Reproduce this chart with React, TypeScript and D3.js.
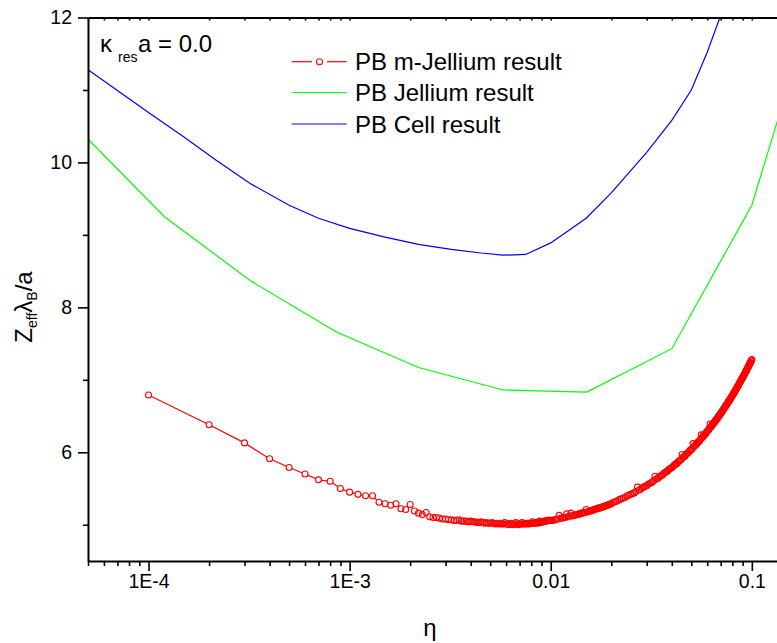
import { useEffect, useRef } from "react";
import * as d3 from "d3";

// PB m-Jellium result (red, circles)
const redEta = [
  0.0001, 0.0002, 0.0003, 0.0004, 0.0005, 0.0006, 0.0007, 0.0008, 0.0009,
  0.0010, 0.0011, 0.0012, 0.0013, 0.0014, 0.0015, 0.0016, 0.0017, 0.0018, 0.0019,
  0.0020, 0.0021, 0.0022, 0.0023, 0.0024, 0.0025, 0.0026, 0.0027, 0.0028,
  0.0029, 0.0030, 0.0031, 0.0032, 0.0033, 0.0034, 0.0035, 0.0036, 0.0037, 0.0038,
  0.0039, 0.0040, 0.0041, 0.0042, 0.0043, 0.0044, 0.0045, 0.0046, 0.0047, 0.0048,
  0.0049, 0.0050, 0.0051, 0.0052, 0.0053, 0.0054, 0.0055, 0.0056, 0.0057, 0.0058,
  0.0059, 0.0060, 0.0061, 0.0062, 0.0063, 0.0064, 0.0065, 0.0066, 0.0067, 0.0068,
  0.0069, 0.0070, 0.0071, 0.0072, 0.0073, 0.0074, 0.0075, 0.0076, 0.0077, 0.0078,
  0.0079, 0.0080, 0.0081, 0.0082, 0.0083, 0.0084, 0.0085, 0.0086, 0.0087, 0.0088,
  0.0089, 0.0090, 0.0091, 0.0092, 0.0093, 0.0094, 0.0095, 0.0096, 0.0097, 0.0098,
  0.0099, 0.0100,
  0.0102, 0.0104, 0.0106, 0.0108, 0.0110, 0.0112, 0.0114, 0.0116, 0.0118, 0.0120,
  0.0122, 0.0124, 0.0126, 0.0128, 0.0130, 0.0132, 0.0134, 0.0136, 0.0138, 0.0140,
  0.0142, 0.0144, 0.0146, 0.0148, 0.0150, 0.0152, 0.0154, 0.0156, 0.0158, 0.0160,
  0.0162, 0.0164, 0.0166, 0.0168, 0.0170, 0.0172, 0.0174, 0.0176, 0.0178, 0.0180,
  0.0182, 0.0184, 0.0186, 0.0188, 0.0190, 0.0192, 0.0194, 0.0196, 0.0198, 0.0200,
  0.0205, 0.0210, 0.0215, 0.0220, 0.0225, 0.0230, 0.0235, 0.0240, 0.0245, 0.0250,
  0.0255, 0.0260, 0.0265, 0.0270, 0.0275, 0.0280, 0.0285, 0.0290, 0.0295, 0.0300,
  0.0305, 0.0310, 0.0315, 0.0320, 0.0325, 0.0330, 0.0335, 0.0340, 0.0345, 0.0350,
  0.0355, 0.0360, 0.0365, 0.0370, 0.0375, 0.0380, 0.0385, 0.0390, 0.0395, 0.0400,
  0.0405, 0.0410, 0.0415, 0.0420, 0.0425, 0.0430, 0.0435, 0.0440, 0.0445, 0.0450,
  0.0455, 0.0460, 0.0465, 0.0470, 0.0475, 0.0480, 0.0485, 0.0490, 0.0495, 0.0500,
  0.0505, 0.0510, 0.0515, 0.0520, 0.0525, 0.0530, 0.0535, 0.0540, 0.0545, 0.0550,
  0.0555, 0.0560, 0.0565, 0.0570, 0.0575, 0.0580, 0.0585, 0.0590, 0.0595, 0.0600,
  0.0605, 0.0610, 0.0615, 0.0620, 0.0625, 0.0630, 0.0635, 0.0640, 0.0645, 0.0650,
  0.0655, 0.0660, 0.0665, 0.0670, 0.0675, 0.0680, 0.0685, 0.0690, 0.0695, 0.0700,
  0.0705, 0.0710, 0.0715, 0.0720, 0.0725, 0.0730, 0.0735, 0.0740, 0.0745, 0.0750,
  0.0755, 0.0760, 0.0765, 0.0770, 0.0775, 0.0780, 0.0785, 0.0790, 0.0795, 0.0800,
  0.0805, 0.0810, 0.0815, 0.0820, 0.0825, 0.0830, 0.0835, 0.0840, 0.0845, 0.0850,
  0.0855, 0.0860, 0.0865, 0.0870, 0.0875, 0.0880, 0.0885, 0.0890, 0.0895, 0.0900,
  0.0905, 0.0910, 0.0915, 0.0920, 0.0925, 0.0930, 0.0935, 0.0940, 0.0945, 0.0950,
  0.0955, 0.0960, 0.0965, 0.0970, 0.0975, 0.0980, 0.0985, 0.0990, 0.0995, 0.1000,
];
const redZ = [
  6.79, 6.38, 6.13, 5.91, 5.79, 5.70, 5.62, 5.60, 5.50,
  5.45, 5.42, 5.40, 5.40, 5.31, 5.29, 5.27, 5.29, 5.22, 5.21,
  5.28, 5.19, 5.16, 5.14, 5.17, 5.11, 5.10, 5.10, 5.09,
  5.08, 5.08, 5.07, 5.07, 5.06, 5.06, 5.07, 5.05, 5.05, 5.05,
  5.04, 5.05, 5.04, 5.04, 5.03, 5.03, 5.04, 5.03, 5.02, 5.03,
  5.02, 5.02, 5.03, 5.02, 5.01, 5.02, 5.01, 5.02, 5.01, 5.01,
  5.03, 5.01, 5.01, 5.00, 5.02, 5.01, 5.00, 5.01, 5.03, 5.01,
  5.00, 5.01, 5.01, 5.03, 5.01, 5.01, 5.02, 5.01, 5.02, 5.01,
  5.02, 5.02, 5.04, 5.02, 5.02, 5.03, 5.03, 5.02, 5.03, 5.05,
  5.03, 5.04, 5.04, 5.04, 5.05, 5.05, 5.05, 5.06, 5.06, 5.06,
  5.06, 5.06,
  5.06, 5.07, 5.07, 5.08, 5.13, 5.09, 5.09, 5.10, 5.10, 5.15,
  5.11, 5.12, 5.16, 5.12, 5.13, 5.13, 5.14, 5.14, 5.15, 5.15,
  5.16, 5.16, 5.17, 5.17, 5.21, 5.18, 5.18, 5.19, 5.19, 5.20,
  5.20, 5.21, 5.21, 5.22, 5.22, 5.23, 5.23, 5.23, 5.24, 5.24,
  5.25, 5.25, 5.26, 5.26, 5.27, 5.27, 5.28, 5.28, 5.29, 5.29,
  5.31, 5.32, 5.33, 5.35, 5.36, 5.37, 5.38, 5.40, 5.41, 5.42,
  5.43, 5.44, 5.46, 5.52, 5.48, 5.49, 5.51, 5.52, 5.53, 5.54,
  5.56, 5.57, 5.58, 5.59, 5.61, 5.67, 5.63, 5.64, 5.66, 5.67,
  5.68, 5.69, 5.71, 5.72, 5.73, 5.74, 5.76, 5.77, 5.78, 5.79,
  5.80, 5.82, 5.83, 5.84, 5.85, 5.87, 5.88, 5.89, 5.90, 5.97,
  5.93, 5.94, 5.95, 5.97, 5.98, 5.99, 6.00, 6.02, 6.03, 6.04,
  6.05, 6.12, 6.08, 6.09, 6.10, 6.11, 6.13, 6.14, 6.15, 6.16,
  6.18, 6.24, 6.20, 6.21, 6.23, 6.24, 6.25, 6.26, 6.28, 6.29,
  6.30, 6.31, 6.33, 6.39, 6.35, 6.36, 6.38, 6.39, 6.40, 6.41,
  6.42, 6.44, 6.45, 6.46, 6.47, 6.49, 6.50, 6.51, 6.52, 6.54,
  6.55, 6.56, 6.57, 6.59, 6.60, 6.61, 6.62, 6.64, 6.65, 6.66,
  6.67, 6.69, 6.70, 6.71, 6.72, 6.73, 6.75, 6.76, 6.77, 6.78,
  6.80, 6.81, 6.82, 6.83, 6.85, 6.86, 6.87, 6.88, 6.90, 6.91,
  6.92, 6.93, 6.95, 6.96, 6.97, 6.98, 7.00, 7.01, 7.02, 7.03,
  7.04, 7.06, 7.07, 7.08, 7.09, 7.11, 7.12, 7.13, 7.14, 7.16,
  7.17, 7.18, 7.19, 7.21, 7.22, 7.23, 7.24, 7.26, 7.27, 7.28,
];

// PB Jellium result (green)
const jelliumEta = [4.5e-5, 1.2e-4, 3.2e-4, 8.6e-4, 2.2e-3, 5.8e-3, 0.0151, 0.04, 0.1, 0.26];
const jelliumZ = [10.45, 9.25, 8.37, 7.66, 7.17, 6.86, 6.83, 7.43, 9.41, 13.2];

// PB Cell result (blue)
const cellEta = [
  4.5e-5, 1e-4, 1.5e-4, 2.17e-4, 3.2e-4, 5e-4, 7e-4, 1e-3, 1.5e-3, 2.2e-3, 3.2e-3,
  4.5e-3, 5.8e-3, 7.5e-3, 0.01, 0.015, 0.02, 0.03, 0.04, 0.05, 0.06, 0.07, 0.08,
];
const cellZ = [
  11.37, 10.69, 10.35, 10.03, 9.71, 9.41, 9.23, 9.09, 8.97, 8.87, 8.80,
  8.75, 8.72, 8.73, 8.89, 9.23, 9.58, 10.14, 10.58, 11.0, 11.52, 12.03, 12.6,
];

const xMajor = [1e-4, 1e-3, 1e-2, 1e-1];
const xLabels = ["1E-4", "1E-3", "0.01", "0.1"];
const xMinor = [
  5e-5, 6e-5, 7e-5, 8e-5, 9e-5,
  2e-4, 3e-4, 4e-4, 5e-4, 6e-4, 7e-4, 8e-4, 9e-4,
  2e-3, 3e-3, 4e-3, 5e-3, 6e-3, 7e-3, 8e-3, 9e-3,
  0.02, 0.03, 0.04, 0.05, 0.06, 0.07, 0.08, 0.09, 0.2,
];
const yMajor = [6, 8, 10, 12];
const yMinor = [5, 7, 9, 11];

const legendNames = ["PB m-Jellium result", "PB Jellium result", "PB Cell result"];
const legendColors = ["#ff0000", "#00ff00", "#0000ff"];

const FONT = "'Liberation Sans', Arial, Helvetica, sans-serif";

export default function App() {
  const svgRef = useRef<SVGSVGElement>(null);

  useEffect(() => {
    const svgEl = svgRef.current;
    if (!svgEl) return;
    const svg = d3.select(svgEl);
    svg.selectAll("*").remove();

    const left = 88, top = 17.5, bottom = 561, decade = 201.1;
    const x = d3.scaleLog().domain([5e-5, 1]).range([left, left + decade * Math.log10(1 / 5e-5)]);
    const y = d3.scaleLinear().domain([4.5, 12]).range([bottom, top]);

    svg.append("rect").attr("width", 777).attr("height", 643).attr("fill", "#fff");

    svg.append("defs").append("clipPath").attr("id", "plot-clip")
      .append("rect").attr("x", left).attr("y", top).attr("width", 800).attr("height", bottom - top);

    const plot = svg.append("g").attr("clip-path", "url(#plot-clip)");

    const line = d3.line<[number, number]>().x(d => x(d[0])).y(d => y(d[1]));

    plot.append("path")
      .datum(jelliumEta.map((e, i) => [e, jelliumZ[i]] as [number, number]))
      .attr("d", line).attr("fill", "none").attr("stroke", "#00ff00").attr("stroke-width", 1.2);

    plot.append("path")
      .datum(cellEta.map((e, i) => [e, cellZ[i]] as [number, number]))
      .attr("d", line).attr("fill", "none").attr("stroke", "#0000ff").attr("stroke-width", 1.2);

    const redPts = redEta.map((e, i) => [e, redZ[i]] as [number, number]);
    plot.append("path")
      .datum(redPts)
      .attr("d", line).attr("fill", "none").attr("stroke", "#ff0000").attr("stroke-width", 1.2);
    // white interiors first so the line is hidden inside the symbols
    plot.append("g").selectAll("circle").data(redPts).join("circle")
      .attr("cx", d => x(d[0])).attr("cy", d => y(d[1])).attr("r", 3)
      .attr("fill", "#fff").attr("stroke", "none");
    plot.append("g").selectAll("circle").data(redPts).join("circle")
      .attr("cx", d => x(d[0])).attr("cy", d => y(d[1])).attr("r", 3)
      .attr("fill", "none").attr("stroke", "#ff0000").attr("stroke-width", 1.1);

    // axes
    const styleAxis = (g: d3.Selection<SVGGElement, unknown, null, undefined>) => {
      g.select(".domain").attr("stroke", "#000").attr("stroke-width", 2);
      g.selectAll(".tick line").attr("stroke", "#000").attr("stroke-width", 1.6);
      g.selectAll(".tick text").attr("fill", "#000").attr("font-family", FONT).attr("font-size", 19.5);
    };

    svg.append("g").attr("transform", `translate(${left},0)`)
      .call(d3.axisLeft(y).tickValues(yMinor).tickSize(5).tickSizeOuter(0).tickFormat(() => ""))
      .call(g => { styleAxis(g); g.select(".domain").remove(); });
    svg.append("g").attr("transform", `translate(${left},0)`)
      .call(d3.axisLeft(y).tickValues(yMajor).tickSize(10).tickPadding(6).tickSizeOuter(0).tickFormat(d3.format("d")))
      .call(styleAxis);

    svg.append("g").attr("transform", `translate(0,${bottom})`)
      .call(d3.axisBottom(x).tickValues(xMinor).tickSize(5).tickSizeOuter(0).tickFormat(() => ""))
      .call(g => { styleAxis(g); g.select(".domain").remove(); });
    svg.append("g").attr("transform", `translate(0,${bottom})`)
      .call(d3.axisBottom(x).tickValues(xMajor).tickSize(10).tickPadding(3).tickSizeOuter(0)
        .tickFormat((_d, i) => xLabels[i]))
      .call(styleAxis);

    // top frame with inward ticks
    svg.append("g").attr("transform", `translate(0,${top})`)
      .call(d3.axisBottom(x).tickValues([...xMinor, ...xMajor]).tickSize(3).tickSizeOuter(0).tickFormat(() => ""))
      .call(styleAxis);

    // axis titles
    svg.append("text").attr("x", 430).attr("y", 636).attr("text-anchor", "middle")
      .attr("font-family", FONT).attr("font-size", 24).text("η");

    const yt = svg.append("text").attr("transform", "translate(32,307) rotate(-90)")
      .attr("text-anchor", "middle").attr("font-family", FONT).attr("font-size", 24);
    yt.append("tspan").text("Z");
    yt.append("tspan").attr("font-size", 14).attr("dy", 5).text("eff");
    yt.append("tspan").attr("dy", -5).text("λ");
    yt.append("tspan").attr("font-size", 14).attr("dy", 5).text("B");
    yt.append("tspan").attr("dy", -5).text("/a");

    // annotation
    const ann = svg.append("text").attr("font-family", FONT).attr("font-size", 24);
    ann.append("tspan").attr("x", 100).attr("y", 52.3).text("κ");
    ann.append("tspan").attr("x", 118).attr("y", 61.7).attr("font-size", 14).text("res");
    ann.append("tspan").attr("x", 138).attr("y", 52.3).text("a = 0.0");

    // legend
    const rows = [61.7, 92.5, 124];
    const lg = svg.append("g");
    legendNames.forEach((name, i) => {
      const ly = rows[i];
      if (i === 0) {
        lg.append("line").attr("x1", 291.7).attr("x2", 312).attr("y1", ly).attr("y2", ly)
          .attr("stroke", legendColors[i]).attr("stroke-width", 1.2);
        lg.append("line").attr("x1", 327).attr("x2", 346.7).attr("y1", ly).attr("y2", ly)
          .attr("stroke", legendColors[i]).attr("stroke-width", 1.2);
        lg.append("circle").attr("cx", 319.5).attr("cy", ly).attr("r", 3)
          .attr("fill", "#fff").attr("stroke", legendColors[i]).attr("stroke-width", 1.1);
      } else {
        lg.append("line").attr("x1", 291.7).attr("x2", 346.7).attr("y1", ly).attr("y2", ly)
          .attr("stroke", legendColors[i]).attr("stroke-width", 1.2);
      }
      lg.append("text").attr("x", 355).attr("y", ly + 8.6)
        .attr("font-family", FONT).attr("font-size", 24).attr("fill", "#000").text(name);
    });
  }, []);

  return (
    <svg
      ref={svgRef}
      width={777}
      height={643}
      style={{ position: "absolute", left: 0, top: 0, display: "block" }}
    />
  );
}
